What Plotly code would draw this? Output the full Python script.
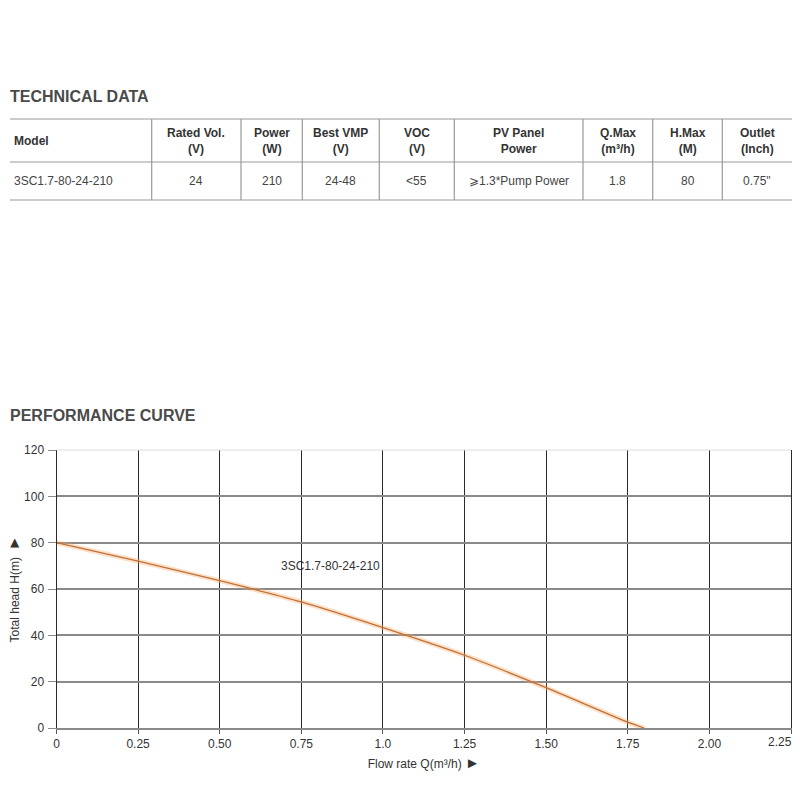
import plotly.graph_objects as go

# ---------------------------------------------------------------
# Data
# ---------------------------------------------------------------
table_headers = ["Model", "Rated Vol.<br>(V)", "Power<br>(W)", "Best VMP<br>(V)", "VOC<br>(V)",
                 "PV Panel<br>Power", "Q.Max<br>(m³/h)", "H.Max<br>(M)", "Outlet<br>(Inch)"]
table_row = ["3SC1.7-80-24-210", "24", "210", "24-48", "&lt;55",
             "⩾1.3*Pump Power", "1.8", "80", "0.75\""]

model_name = "3SC1.7-80-24-210"
flow_q = [0, 0.25, 0.5, 0.75, 1.0, 1.25, 1.5, 1.75, 1.8]
head_h = [80, 72, 63.6, 54.4, 43.3, 31.4, 17.4, 2.5, 0]

x_ticks = [0, 0.25, 0.5, 0.75, 1.0, 1.25, 1.5, 1.75, 2.0, 2.25]
x_ticktext = ["0", "0.25", "0.50", "0.75", "1.0", "1.25", "1.50", "1.75", "2.00", ""]
y_ticks = [0, 20, 40, 60, 80, 100, 120]

# ---------------------------------------------------------------
# Layout helpers (pixel -> paper, figure is 800x800, no margins)
# ---------------------------------------------------------------
W = H = 800
px = lambda v: v / W
py = lambda v: 1 - v / H

col_edges = [10, 151.7, 241, 302.3, 379.3, 454.3, 583, 652.7, 722.3, 792]
line_ys = [119, 162, 200]

fig = go.Figure()

# performance curve: soft glow + main line
fig.add_trace(go.Scatter(
    x=flow_q, y=head_h, mode="lines",
    line=dict(color="rgba(245,165,95,0.35)", width=5, shape="spline", smoothing=0.6),
    hoverinfo="skip", showlegend=False,
))
fig.add_trace(go.Scatter(
    x=flow_q, y=head_h, mode="lines", name=model_name,
    line=dict(color="#c0703a", width=1.3, shape="spline", smoothing=0.6),
    showlegend=False,
))
# invisible trace on the secondary axis to carry the horizontal grid
fig.add_trace(go.Scatter(x=[0], y=[0], yaxis="y2", mode="markers",
                         marker=dict(opacity=0), hoverinfo="skip", showlegend=False))

font_family = "Liberation Sans, Arial, sans-serif"
narrow_family = "Liberation Sans Narrow, Arial Narrow, Liberation Sans, sans-serif"

shapes = []
annotations = []

# table lines
for ly in line_ys:
    shapes.append(dict(type="line", xref="paper", yref="paper",
                       x0=px(col_edges[0]), x1=px(col_edges[-1]), y0=py(ly), y1=py(ly),
                       line=dict(color="#9a9a9a", width=1.2)))
for cx in col_edges[1:-1]:
    shapes.append(dict(type="line", xref="paper", yref="paper",
                       x0=px(cx), x1=px(cx), y0=py(line_ys[0]), y1=py(line_ys[-1]),
                       line=dict(color="#9a9a9a", width=1.2)))

# faint frame line along the top of the plot area
shapes.append(dict(type="line", xref="x domain", yref="y domain", x0=0, x1=1, y0=1, y1=1,
                   line=dict(color="#dddddd", width=1)))

# table text
for i, (hdr, val) in enumerate(zip(table_headers, table_row)):
    if i == 0:
        xpos, anchor = px(col_edges[0] + 2), "left"
    else:
        xpos, anchor = px((col_edges[i] + col_edges[i + 1]) / 2), "center"
    annotations.append(dict(text=f"<b>{hdr}</b>", x=xpos, y=py(140.5), xref="paper", yref="paper",
                            xanchor=anchor, yanchor="middle", showarrow=False,
                            font=dict(family=font_family, size=12, color="#333333")))
    annotations.append(dict(text=val, x=xpos, y=py(181), xref="paper", yref="paper",
                            xanchor=anchor, yanchor="middle", showarrow=False,
                            font=dict(family=font_family, size=12, color="#444444")))

# section titles
for title, ty in [("TECHNICAL DATA", 96), ("PERFORMANCE CURVE", 415)]:
    annotations.append(dict(text=f"<b>{title}</b>", x=px(8), y=py(ty), xref="paper", yref="paper",
                            xanchor="left", yanchor="middle", showarrow=False,
                            font=dict(family=font_family, size=16, color="#4a4a4a")))

# curve label
annotations.append(dict(text=model_name, x=0.84, y=70, xref="x", yref="y",
                        xanchor="center", yanchor="middle", showarrow=False,
                        font=dict(family=font_family, size=12, color="#333333")))

# last x tick label sits inside the frame, right aligned
annotations.append(dict(text="2.25", x=x_ticks[-1], y=0, xref="x", yref="y",
                        xanchor="right", yanchor="middle", xshift=3, yshift=-14, showarrow=False,
                        font=dict(family=narrow_family, size=12, color="#333333")))

arrow = "<span style='font-size:15px'>►</span>"

fig.update_layout(
    width=W, height=H,
    margin=dict(l=0, r=0, t=0, b=0, pad=0, autoexpand=False),
    paper_bgcolor="white", plot_bgcolor="white",
    font=dict(family=font_family, size=11, color="#333333"),
    shapes=shapes, annotations=annotations,
    xaxis=dict(
        domain=[px(56.5), px(791)], range=[0, 2.25], automargin=False,
        tickvals=x_ticks, ticktext=x_ticktext,
        showgrid=True, gridcolor="#2a2a2a", gridwidth=1,
        zeroline=False, showline=True, linecolor="#8a8a8a", linewidth=1.5,
        ticks="outside", ticklen=4, tickcolor="#555555", tickwidth=1,
        ticklabelstandoff=0,
        tickfont=dict(family=narrow_family, size=12, color="#333333"),
        title=dict(text=f"Flow rate Q(m³/h) {arrow}", standoff=9,
                   font=dict(family=narrow_family, size=12, color="#333333")),
    ),
    yaxis=dict(
        domain=[py(728), py(450)], range=[0, 120], automargin=False,
        tickvals=y_ticks, showgrid=False, zeroline=False,
        showline=True, linecolor="#2a2a2a", linewidth=1, mirror=True,
        ticks="outside", ticklen=8, tickcolor="#8a8a8a", tickwidth=1,
        ticklabelstandoff=1,
        tickfont=dict(family=narrow_family, size=12, color="#333333"),
        title=dict(text=f"Total head H(m)  {arrow}", standoff=1,
                   font=dict(family=font_family, size=12, color="#333333")),
    ),
    yaxis2=dict(
        overlaying="y", range=[0, 120], tickvals=y_ticks[1:-1], automargin=False,
        showgrid=True, gridcolor="#8a8a8a", gridwidth=1.5,
        showticklabels=False, zeroline=False, showline=False,
    ),
)

# drop the default page margin so the 800x800 figure fills the window exactly
page_fix = (
    "document.documentElement.style.margin='0';"
    "document.documentElement.style.padding='0';"
    "document.documentElement.style.overflow='hidden';"
    "document.body.style.margin='0';"
    "document.body.style.padding='0';"
    "document.body.style.overflow='hidden';"
)
fig.write_html("out.html", config={"displayModeBar": False}, post_script=page_fix)
